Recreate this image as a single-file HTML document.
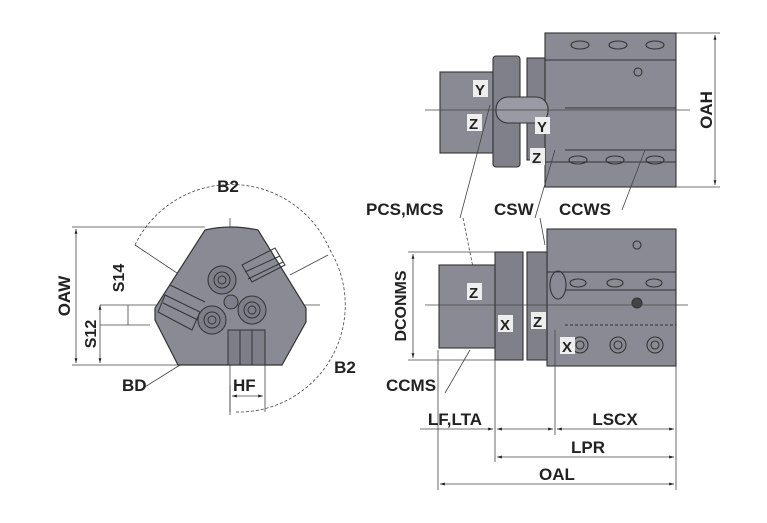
<!DOCTYPE html><html><head><style>body{margin:0;background:#fff}svg{display:block}text{font-family:"Liberation Sans",Arial,sans-serif;font-weight:bold;fill:#222}</style></head><body>
<svg width="767" height="523" viewBox="0 0 767 523" xmlns="http://www.w3.org/2000/svg">
<defs><marker id="a" viewBox="0 0 10 10" refX="10" refY="5" markerWidth="6" markerHeight="6" orient="auto-start-reverse"><path d="M0,2L10,5L0,8z" fill="#222"/></marker></defs>
<g stroke="#444" stroke-width="0.8" fill="none">
<path d="M135,245 A107,107 0 0 1 330,250" stroke-dasharray="3,2"/>
<path d="M330,250 A107,107 0 0 1 235,412" stroke-dasharray="3,2"/>
<line x1="230" y1="218" x2="230" y2="415"/><line x1="100" y1="305" x2="320" y2="305"/>
<line x1="72" y1="227" x2="205" y2="227"/><line x1="72" y1="365" x2="180" y2="365"/>
<line x1="76" y1="229" x2="76" y2="363" marker-start="url(#a)" marker-end="url(#a)"/>
<line x1="100" y1="305" x2="100" y2="363" marker-start="url(#a)" marker-end="url(#a)"/>
<line x1="100" y1="325" x2="150" y2="325"/><line x1="128" y1="305" x2="128" y2="325"/>
<line x1="230" y1="385" x2="230" y2="412"/><line x1="265" y1="365" x2="265" y2="412"/>
<line x1="232" y1="396" x2="263" y2="396" marker-start="url(#a)" marker-end="url(#a)"/>
<line x1="140" y1="390" x2="180" y2="365"/><line x1="178" y1="365" x2="215" y2="320"/>
<line x1="135" y1="245" x2="195" y2="285"/><line x1="290" y1="275" x2="328" y2="255"/>
</g>
<path d="M205,230 Q230,224 258,230 L306,308 L306,322 L282,365 L178,365 L155,320 L155,308 Z" fill="#8a8a94" stroke="#333" stroke-width="1.2"/>
<g stroke="#333" stroke-width="1" fill="none">
<rect x="228" y="330" width="37" height="35" fill="#7e7e88"/><line x1="240" y1="330" x2="240" y2="365"/><line x1="252" y1="330" x2="252" y2="365"/>
<path d="M165,295 L200,312 L192,330 L158,312Z M170,285 L205,302 M163,303 L198,320"/>
<path d="M242,265 L275,248 L285,265 L252,282Z M245,272 L280,256 M248,279 L283,262"/>
<circle cx="222" cy="280" r="14" fill="#7e7e88"/><circle cx="222" cy="280" r="8"/><circle cx="222" cy="280" r="4"/>
<circle cx="252" cy="310" r="14" fill="#7e7e88"/><circle cx="252" cy="310" r="8"/><circle cx="252" cy="310" r="4"/>
<circle cx="212" cy="320" r="14" fill="#7e7e88"/><circle cx="212" cy="320" r="8"/><circle cx="212" cy="320" r="4"/>
<circle cx="231" cy="302" r="7" fill="#7e7e88"/>
</g>
<text x="228" y="192" font-size="17" text-anchor="middle">B2</text>
<text x="345" y="373" font-size="17" text-anchor="middle">B2</text>
<text x="122" y="391" font-size="17">BD</text>
<text x="233" y="391" font-size="17">HF</text>
<text font-size="17" transform="translate(70,296) rotate(-90)" text-anchor="middle">OAW</text>
<text font-size="16" transform="translate(96,334) rotate(-90)" text-anchor="middle">S12</text>
<text font-size="16" transform="translate(124,278) rotate(-90)" text-anchor="middle">S14</text>
<g stroke="#333" stroke-width="1.1">
<rect x="545" y="33" width="131" height="154" fill="#8a8a94"/>
<rect x="440" y="72" width="53" height="81" fill="#8a8a94"/>
<rect x="493" y="56" width="27" height="111" fill="#80808a" rx="3"/>
<rect x="527" y="58" width="18" height="102" fill="#80808a"/>
<rect x="496" y="97" width="52" height="26" rx="12" fill="#9a9aa4"/>
<g fill="none"><line x1="545" y1="60" x2="676" y2="60"/><line x1="565" y1="108" x2="676" y2="108"/><line x1="565" y1="150" x2="676" y2="150"/><line x1="545" y1="162" x2="676" y2="162"/>
<ellipse cx="580" cy="45" rx="9" ry="4"/><ellipse cx="618" cy="45" rx="9" ry="4"/><ellipse cx="655" cy="45" rx="9" ry="4"/><circle cx="638" cy="72" r="4"/>
<ellipse cx="578" cy="160" rx="9" ry="4"/><ellipse cx="615" cy="160" rx="9" ry="4"/><ellipse cx="655" cy="160" rx="9" ry="4"/></g>
</g>
<g stroke="#444" stroke-width="0.8" fill="none">
<line x1="425" y1="110" x2="690" y2="110"/><line x1="676" y1="33" x2="720" y2="33"/><line x1="676" y1="187" x2="720" y2="187"/>
<line x1="715" y1="35" x2="715" y2="185" marker-start="url(#a)" marker-end="url(#a)"/>
<line x1="460" y1="218" x2="490" y2="105"/><line x1="535" y1="218" x2="555" y2="150"/><line x1="622" y1="210" x2="645" y2="150"/>
<line x1="463" y1="218" x2="480" y2="302" stroke-dasharray="3,2"/><line x1="540" y1="218" x2="545" y2="245"/>
</g>
<rect x="473" y="80" width="15" height="17" fill="#eee"/><text x="475" y="95" font-size="15">Y</text>
<rect x="467" y="114" width="15" height="17" fill="#eee"/><text x="469" y="129" font-size="15">Z</text>
<rect x="535" y="117" width="15" height="17" fill="#eee"/><text x="537" y="132" font-size="15">Y</text>
<rect x="530" y="148" width="15" height="17" fill="#eee"/><text x="532" y="163" font-size="15">Z</text>
<text font-size="17" transform="translate(712,110) rotate(-90)" text-anchor="middle">OAH</text>
<text x="366" y="215" font-size="17">PCS,MCS</text>
<text x="494" y="215" font-size="17">CSW</text>
<text x="559" y="215" font-size="17">CCWS</text>
<g stroke="#333" stroke-width="1.1">
<rect x="547" y="229" width="129" height="137" fill="#8a8a94"/>
<rect x="439" y="265" width="56" height="83" fill="#8a8a94"/>
<rect x="495" y="252" width="28" height="108" fill="#80808a"/>
<rect x="527" y="252" width="20" height="108" fill="#80808a"/>
<g fill="none"><line x1="547" y1="272" x2="676" y2="272"/><line x1="565" y1="290" x2="676" y2="290"/><line x1="565" y1="325" x2="676" y2="325" stroke-dasharray="3,2"/>
<circle cx="637" cy="245" r="4"/><circle cx="637" cy="303" r="5" fill="#444"/>
<circle cx="580" cy="345" r="8"/><circle cx="618" cy="345" r="8"/><circle cx="655" cy="345" r="8"/>
<circle cx="580" cy="345" r="4"/><circle cx="618" cy="345" r="4"/><circle cx="655" cy="345" r="4"/>
<ellipse cx="578" cy="283" rx="8" ry="4"/><ellipse cx="615" cy="283" rx="8" ry="4"/><ellipse cx="654" cy="283" rx="8" ry="4"/>
<ellipse cx="558" cy="285" rx="8" ry="14"/></g>
</g>
<g stroke="#444" stroke-width="0.8" fill="none">
<line x1="425" y1="305" x2="688" y2="305"/>
<line x1="408" y1="252" x2="495" y2="252"/><line x1="408" y1="360" x2="495" y2="360"/>
<line x1="413" y1="254" x2="413" y2="358" marker-start="url(#a)" marker-end="url(#a)"/>
<line x1="445" y1="393" x2="470" y2="350"/>
<line x1="438" y1="350" x2="438" y2="490"/><line x1="495" y1="360" x2="495" y2="462"/><line x1="555" y1="330" x2="555" y2="435"/><line x1="676" y1="366" x2="676" y2="490"/>
<line x1="420" y1="429" x2="493" y2="429" marker-end="url(#a)"/>
<line x1="497" y1="429" x2="553" y2="429" marker-start="url(#a)" marker-end="url(#a)"/>
<line x1="557" y1="429" x2="674" y2="429" marker-start="url(#a)" marker-end="url(#a)"/>
<line x1="497" y1="457" x2="674" y2="457" marker-start="url(#a)" marker-end="url(#a)"/>
<line x1="440" y1="484" x2="674" y2="484" marker-start="url(#a)" marker-end="url(#a)"/>
</g>
<rect x="467" y="283" width="15" height="17" fill="#eee"/><text x="469" y="298" font-size="15">Z</text>
<rect x="498" y="315" width="15" height="17" fill="#eee"/><text x="500" y="330" font-size="15">X</text>
<rect x="531" y="312" width="15" height="17" fill="#eee"/><text x="533" y="327" font-size="15">Z</text>
<rect x="560" y="337" width="15" height="17" fill="#eee"/><text x="562" y="352" font-size="15">X</text>
<text font-size="16" transform="translate(406,306) rotate(-90)" text-anchor="middle">DCONMS</text>
<text x="386" y="391" font-size="17">CCMS</text>
<text x="455" y="425" font-size="17" text-anchor="middle">LF,LTA</text>
<text x="615" y="425" font-size="17" text-anchor="middle">LSCX</text>
<text x="588" y="453" font-size="17" text-anchor="middle">LPR</text>
<text x="557" y="480" font-size="17" text-anchor="middle">OAL</text>
</svg></body></html>
